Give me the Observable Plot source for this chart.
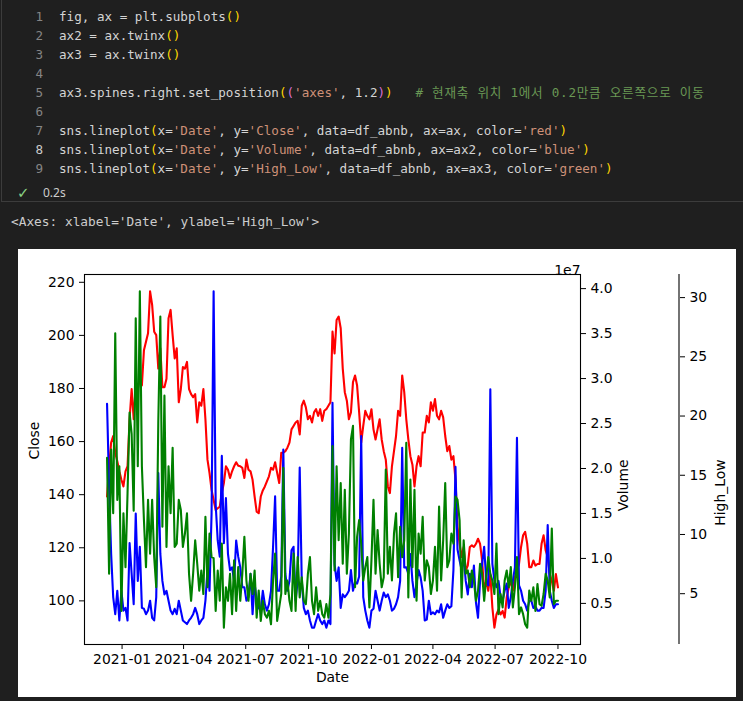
<!DOCTYPE html>
<html><head><meta charset="utf-8">
<script src="https://cdn.jsdelivr.net/npm/d3@7"></script>
<script src="https://cdn.jsdelivr.net/npm/@observablehq/plot@0.6"></script>
<style>
html,body{margin:0;padding:0;background:#1f1f1f;width:743px;height:701px;overflow:hidden;}
#cell{position:absolute;left:1px;top:0;width:742px;height:201px;border-left:1px solid #3c3c3c;border-bottom:1px solid #3c3c3c;}
.ln,.code,.out{position:absolute;font-family:"DejaVu Sans Mono","Noto Sans CJK KR",monospace;font-size:12.6px;line-height:19px;white-space:pre;}
.ln{left:0;width:43px;text-align:right;color:#858585;}
.ln.act{color:#cccccc;}
.code{left:59px;color:#d4d4d4;}
.s{color:#ce9178}.y{color:#ffd700}.p{color:#da70d6}.c{color:#6a9955;letter-spacing:0.75px}
#check{position:absolute;left:17px;top:183px;color:#89d185;font:15px "DejaVu Sans";line-height:20px;}
#time{position:absolute;left:43px;top:184px;color:#cccccc;font:12px "Noto Sans";line-height:18px;}
.out{left:11px;top:212px;color:#cccccc;font-size:12.8px;}
#fig{position:absolute;left:18px;top:249px;width:718px;height:448px;background:#fff;overflow:hidden;}
#fig svg{position:absolute;left:0;top:0;}
</style></head>
<body>
<div id="cell"></div>
<div id="code"></div>
<div id="check">✓</div>
<div id="time">0.2s</div>
<div class="out">&lt;Axes: xlabel='Date', ylabel='High_Low'&gt;</div>
<div id="fig"></div>
<script>
// ---- data (sampled every 3 calendar days from 2020-12-10) ----
const startDate = "2020-12-10";
const stepDays = 3;
const close = [
139.3,150.7,159.6,162.1,155.8,152.6,148.8,145.6,143.1,148.8,
150.7,168.4,179.8,168.4,181.1,179.8,183.7,181.1,194.4,197.6,
200.8,216.6,211.5,201.4,200.1,187.5,195.1,180.5,180.5,183.7,
206.5,209.6,200.1,191.3,195.1,174.8,179.8,188.1,187.5,190.0,
179.8,177.9,176.7,177.9,167.2,174.8,173.5,179.8,168.4,153.2,
148.1,141.8,138.0,134.2,134.9,135.5,140.6,144.4,150.7,149.4,
146.3,148.8,150.7,152.2,150.9,150.7,150.1,146.3,153.2,149.4,
148.8,145.6,139.3,133.6,133.0,139.3,141.6,143.1,145.0,146.9,
150.1,149.4,152.2,148.2,144.4,155.8,155.8,156.4,157.7,159.6,
164.6,165.9,167.2,167.8,162.7,173.5,175.4,172.9,168.4,169.7,
167.2,171.0,172.2,169.7,172.2,167.8,171.6,172.2,173.5,174.8,
201.4,193.2,205.8,207.1,202.7,187.5,178.6,175.4,168.4,171.0,
182.4,184.9,181.1,171.0,159.6,165.9,171.6,169.7,168.4,172.2,
164.6,160.8,164.6,168.4,160.8,156.4,153.2,143.1,140.6,150.7,
156.4,162.1,171.6,169.7,184.9,178.6,168.4,160.8,154.5,151.3,
143.1,150.7,154.5,150.7,163.4,163.4,169.7,167.2,174.8,171.6,
176.0,169.7,168.4,171.6,169.1,162.1,156.4,158.3,153.2,154.5,
145.6,127.9,121.5,116.5,120.3,111.4,113.3,120.3,120.9,120.3,
121.5,123.4,121.5,115.2,103.8,107.6,103.8,110.1,97.5,89.9,
94.9,96.8,94.9,96.2,93.7,101.3,105.1,107.6,103.8,108.9,
111.4,113.9,120.3,124.7,126.0,121.5,112.7,112.7,115.2,113.3,
113.9,113.9,121.5,124.7,119.0,116.5,110.1,107.6,103.8,110.1,
105.1];
const volumeMillions = [
27.2,18.0,10.5,5.7,3.8,6.4,3.1,6.4,4.2,4.5,
3.1,11.7,8.3,4.9,15.0,7.5,11.3,4.5,4.4,3.8,
4.2,5.3,3.4,3.1,5.7,19.5,10.5,7.5,6.0,6.4,
5.3,4.2,3.8,4.4,3.8,5.3,4.2,3.1,2.9,2.7,
3.1,3.4,3.8,4.5,3.8,2.7,3.1,3.4,5.3,8.7,
6.4,15.0,39.7,16.0,12.0,10.2,21.4,11.7,16.7,10.5,
8.7,9.0,7.5,12.0,10.2,9.0,6.8,6.8,5.3,5.7,
8.3,3.8,7.2,5.3,4.5,4.2,6.4,4.9,4.2,4.9,
6.4,11.3,16.9,6.4,6.4,8.0,22.1,8.3,6.4,7.5,
10.9,11.3,5.3,7.5,20.1,7.5,4.5,3.8,4.2,3.1,
2.3,2.3,3.1,3.8,3.1,2.7,3.1,2.3,3.1,2.7,
27.3,9.4,7.5,9.0,4.5,6.0,5.7,6.0,6.4,8.7,
6.4,7.4,7.2,8.0,23.6,5.7,4.2,3.1,2.3,4.2,
4.4,6.4,5.3,4.2,5.3,6.2,5.7,6.0,5.3,4.2,
4.4,4.9,5.7,7.5,22.3,9.0,9.0,8.3,10.5,7.5,
5.7,7.2,8.7,7.9,6.4,3.1,3.2,5.3,3.8,4.0,
3.8,4.2,4.0,4.9,3.4,4.2,4.9,4.5,4.7,8.7,
20.2,11.0,9.8,8.7,10.2,7.5,6.0,8.3,6.8,9.2,
5.1,3.4,7.5,9.4,11.3,7.5,7.0,28.8,9.4,7.5,
6.8,7.5,5.7,5.3,6.4,7.2,4.5,5.7,7.5,9.0,
23.4,7.0,6.4,5.3,4.9,4.2,5.3,5.3,4.5,4.7,
4.2,4.2,4.5,4.5,6.4,13.7,6.4,5.3,4.5,4.9,
4.9];
const highLow = [
16.47,6.68,17.18,11.79,26.98,12.92,15.76,3.55,11.79,7.24,
13.49,20.30,18.5,12.0,28.25,15.76,30.53,15.76,11.22,7.24,
12.92,8.38,12.92,8.09,5.54,19.45,28.40,10.65,21.72,8.95,
15.76,11.79,17.32,8.95,9.23,12.92,12.07,8.95,10.08,11.79,
6.68,4.40,6.68,9.51,7.53,5.26,6.96,4.97,11.50,5.54,
10.08,8.09,8.0,3.55,6.96,4.40,9.23,2.13,5.54,4.40,
6.68,3.27,7.81,3.55,7.24,4.40,6.68,9.80,6.11,4.40,
6.68,4.97,6.96,2.98,5.26,2.70,4.40,3.27,2.98,3.55,
2.42,6.11,8.38,2.70,3.84,5.0,15.62,4.97,6.11,4.40,
3.55,8.38,3.55,8.09,4.69,6.39,4.40,4.12,6.68,8.09,
4.40,3.27,5.54,3.55,4.40,3.27,2.98,4.12,2.98,4.97,
17.46,6.96,15.76,9.51,14.34,7.53,13.77,6.68,10.08,18.03,
19.17,5.54,9.80,11.22,9.23,6.11,7.24,8.09,3.84,7.81,
12.92,6.68,10.37,7.53,5.54,6.39,15.48,6.68,8.95,6.11,
10.08,11.79,6.39,10.65,8.09,9.51,17.75,4.69,14.63,7.24,
13.77,4.40,10.08,8.38,11.50,6.11,7.81,7.24,4.97,6.11,
8.95,5.26,12.35,6.11,9.51,14.34,7.24,7.81,10.08,9.23,
13.21,12.92,11.22,4.69,9.51,6.68,6.96,5.54,6.96,6.11,
4.40,5.26,7.53,6.68,4.40,6.39,8.09,6.68,6.11,4.97,
9.23,3.27,4.97,3.84,6.11,6.96,5.54,7.24,3.84,5.54,
8.09,3.27,3.84,3.27,2.42,2.13,5.26,4.40,5.54,3.55,
5.82,4.12,3.98,4.97,6.68,6.11,4.69,10.51,4.12,4.40,
4.40];
const xTickLabels = ["2021-01","2021-04","2021-07","2021-10","2022-01","2022-04","2022-07","2022-10"];
const closeTicks = [100,120,140,160,180,200,220];
const volumeTicks = [0.5,1.0,1.5,2.0,2.5,3.0,3.5,4.0];   // x 1e7
const highLowTicks = [5,10,15,20,25,30];

// ---- code cell ----
const codeLines = [
  'fig, ax = plt.subplots<y>()</y>',
  'ax2 = ax.twinx<y>()</y>',
  'ax3 = ax.twinx<y>()</y>',
  '',
  "ax3.spines.right.set_position<y>(</y><p>(</p><s>'axes'</s>, 1.2<p>)</p><y>)</y>   <c># 현재축 위치 1에서 0.2만큼 오른쪽으로 이동</c>",
  '',
  "sns.lineplot<y>(</y>x=<s>'Date'</s>, y=<s>'Close'</s>, data=df_abnb, ax=ax, color=<s>'red'</s><y>)</y>",
  "sns.lineplot<y>(</y>x=<s>'Date'</s>, y=<s>'Volume'</s>, data=df_abnb, ax=ax2, color=<s>'blue'</s><y>)</y>",
  "sns.lineplot<y>(</y>x=<s>'Date'</s>, y=<s>'High_Low'</s>, data=df_abnb, ax=ax3, color=<s>'green'</s><y>)</y>"
];
const codeDiv = document.getElementById("code");
codeLines.forEach((l, i) => {
  const top = 7 + 19 * i;
  const ln = document.createElement("div");
  ln.className = "ln" + (i === 7 ? " act" : "");
  ln.style.top = top + "px";
  ln.textContent = String(i + 1);
  codeDiv.appendChild(ln);
  const c = document.createElement("div");
  c.className = "code";
  c.style.top = top + "px";
  c.innerHTML = l.replace(/<(\/?)([yspc])>/g, (m, sl, t) => sl ? "</span>" : `<span class="${t}">`);
  codeDiv.appendChild(c);
});

// ---- chart ----
const start = new Date(startDate + "T00:00:00Z");
const rows = close.map((v, i) => ({
  date: d3.utcDay.offset(start, stepDays * i),
  close: v,
  volume: volumeMillions[i] * 1e6,
  hl: highLow[i]
}));
const pad = ([a, b]) => { const r = b - a; return [a - 0.05 * r, b + 0.05 * r]; };
const tExt = d3.extent(rows, d => +d.date);
const xdom = pad(tExt).map(t => new Date(t));
const xTicks = xTickLabels.map(s => new Date(s + "-01T00:00:00Z"));

const W = 718, H = 448, mL = 66, mR = 156, mT = 25, mB = 53;
const style = {fontFamily: "DejaVu Sans", fontSize: "13.9px", color: "black", background: "none", overflow: "visible"};
const lw = 2.1;

const p1 = Plot.plot({
  width: W, height: H, marginLeft: mL, marginRight: mR, marginTop: mT, marginBottom: mB, style,
  x: {type: "utc", domain: xdom},
  y: {domain: pad(d3.extent(close))},
  marks: [
    Plot.line(rows, {x: "date", y: "close", stroke: "red", strokeWidth: lw}),
    Plot.frame({stroke: "black", strokeWidth: 1.1}),
    Plot.axisX({ticks: xTicks, tickFormat: d3.utcFormat("%Y-%m"), tickSize: 5, tickPadding: 5, label: null}),
    Plot.axisY({ticks: closeTicks, tickSize: 5, tickPadding: 5, label: null}),
    Plot.text(["Close"], {text: d => d, frameAnchor: "left", dx: -50, rotate: -90}),
    Plot.text(["Date"], {text: d => d, frameAnchor: "bottom", dy: 37})
  ]
});

const p2 = Plot.plot({
  width: W, height: H, marginLeft: mL, marginRight: mR, marginTop: mT, marginBottom: mB, style,
  x: {type: "utc", domain: xdom, axis: null},
  y: {domain: pad(d3.extent(rows, d => d.volume))},
  marks: [
    Plot.line(rows, {x: "date", y: "volume", stroke: "blue", strokeWidth: lw}),
    Plot.axisY({anchor: "right", ticks: volumeTicks.map(v => v * 1e7), tickFormat: d => (d / 1e7).toFixed(1), tickSize: 5, tickPadding: 5, label: null}),
    Plot.text(["Volume"], {text: d => d, frameAnchor: "right", dx: 43, rotate: -90}),
    Plot.text(["1e7"], {text: d => d, frameAnchor: "top-right", textAnchor: "end", dy: -9})
  ]
});

const mR3 = 57;
const p3 = Plot.plot({
  width: W, height: H, marginLeft: mL, marginRight: mR3, marginTop: mT, marginBottom: mB, style,
  x: {type: "utc", domain: xdom, range: [mL, W - mR], axis: null},
  y: {domain: pad(d3.extent(highLow))},
  marks: [
    Plot.line(rows, {x: "date", y: "hl", stroke: "green", strokeWidth: lw}),
    (index, scales, values, dims) => {
      const x = dims.width - dims.marginRight;
      return d3.create("svg:line")
        .attr("x1", x).attr("x2", x)
        .attr("y1", dims.marginTop).attr("y2", dims.height - dims.marginBottom)
        .attr("stroke", "black").attr("stroke-width", 1.1).node();
    },
    Plot.axisY({anchor: "right", ticks: highLowTicks, tickSize: 5, tickPadding: 5, label: null}),
    Plot.text(["High_Low"], {text: d => d, frameAnchor: "right", dx: 41, rotate: -90})
  ]
});

const fig = document.getElementById("fig");
fig.appendChild(p1); fig.appendChild(p2); fig.appendChild(p3);
</script>
</body></html>
